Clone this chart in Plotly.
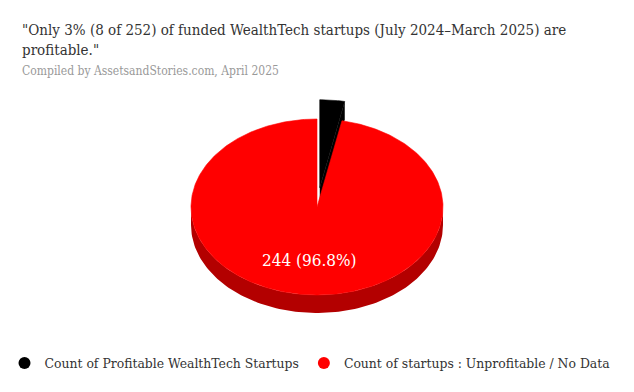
import numpy as np
import plotly.graph_objects as go

# ---- data ----
labels = ["Count of Profitable WealthTech Startups", "Count of startups : Unprofitable / No Data"]
values = [8, 244]
colors = ["#000000", "#ff0000"]
side_colors = ["#000000", "#b30000"]
title_text = "\"Only 3% (8 of 252) of funded WealthTech startups (July 2024–March 2025) are<br>profitable.\""
subtitle_text = "Compiled by AssetsandStories.com, April 2025"

# ---- geometry (pixel space) ----
W, H = 634, 392
cx, cy = 317, 207
rx, ry = 126, 88
depth = 18
explode = [0.22, 0.0]
FONT = "DejaVu Serif Condensed, DejaVu Serif"

total = sum(values)
fig = go.Figure()

def pt(t, ox, oy, dz=0):
    return cx + ox + rx * np.sin(t), cy + oy - ry * np.cos(t) + dz

start = 0.0
slices = []
for lab, v, c, sc, ex in zip(labels, values, colors, side_colors, explode):
    a0 = start
    a1 = start + 2 * np.pi * v / total
    mid = (a0 + a1) / 2
    ox = ex * rx * np.sin(mid)
    oy = -ex * ry * np.cos(mid)
    slices.append((lab, v, c, sc, a0, a1, mid, ox, oy))
    start = a1

for lab, v, c, sc, a0, a1, mid, ox, oy in slices:
    lo, hi = max(a0, np.pi / 2), min(a1, 3 * np.pi / 2)
    if hi > lo:
        ts = np.linspace(lo, hi, 120)
        xs_top, ys_top = pt(ts, ox, oy)
        xs_bot, ys_bot = pt(ts[::-1], ox, oy, depth)
        fig.add_trace(go.Scatter(x=np.r_[xs_top, xs_bot], y=np.r_[ys_top, ys_bot],
                                 fill="toself", fillcolor=sc, mode="lines",
                                 line=dict(width=0, color=sc), hoverinfo="skip", showlegend=False))
    ex_, ey_ = pt(a1, ox, oy)
    ax_, ay_ = cx + ox, cy + oy
    fig.add_trace(go.Scatter(x=[ax_, ex_, ex_, ax_], y=[ay_, ey_, ey_ + depth, ay_ + depth],
                             fill="toself", fillcolor=sc, mode="lines",
                             line=dict(width=0, color=sc), hoverinfo="skip", showlegend=False))
    ts = np.linspace(a0, a1, max(8, int((a1 - a0) * 80)))
    xs, ys = pt(ts, ox, oy)
    fig.add_trace(go.Scatter(x=np.r_[cx + ox, xs, cx + ox], y=np.r_[cy + oy, ys, cy + oy],
                             fill="toself", fillcolor=c, mode="lines",
                             line=dict(width=0.6, color=c),
                             hoveron="fills", name=lab,
                             text=f"{lab}: {v}", hoverinfo="text", showlegend=False))

lab, v, c, sc, a0, a1, mid, ox, oy = slices[1]
lx, ly = cx + ox + 0.6 * rx * np.sin(mid), cy + oy - 0.6 * ry * np.cos(mid)
fig.add_annotation(x=lx, y=ly, xref="x", yref="y", showarrow=False,
                   text=f"{v} ({v / total * 100:.1f}%)",
                   font=dict(family=FONT, size=17, color="white"))

for lab, c in zip(labels, colors):
    fig.add_trace(go.Scatter(x=[None], y=[None], mode="markers", name=lab,
                             marker=dict(color=c, size=12, symbol="circle")))

fig.add_annotation(x=20, y=40, xref="x", yref="y", xanchor="left", yanchor="middle",
                   showarrow=False, align="left", text=title_text,
                   font=dict(family=FONT, size=15, color="#333333"))
fig.add_annotation(x=20, y=71, xref="x", yref="y", xanchor="left", yanchor="middle",
                   showarrow=False, align="left", text=subtitle_text,
                   font=dict(family=FONT, size=12, color="#999999"))

fig.update_layout(
    width=W, height=H, margin=dict(l=0, r=0, t=0, b=0),
    paper_bgcolor="white", plot_bgcolor="white",
    xaxis=dict(range=[0, W], visible=False, fixedrange=True),
    yaxis=dict(range=[H, 0], visible=False, fixedrange=True),
    showlegend=True,
    legend=dict(orientation="h", x=0.5 - 7 / W, xanchor="center", y=(H - 363) / H, yanchor="middle",
                font=dict(family=FONT, size=13.8, color="#333333"), itemclick=False),
    font=dict(family=FONT),
)
fig.write_html("out.html", config={"displayModeBar": False},
               post_script="document.body.style.margin='0';")
